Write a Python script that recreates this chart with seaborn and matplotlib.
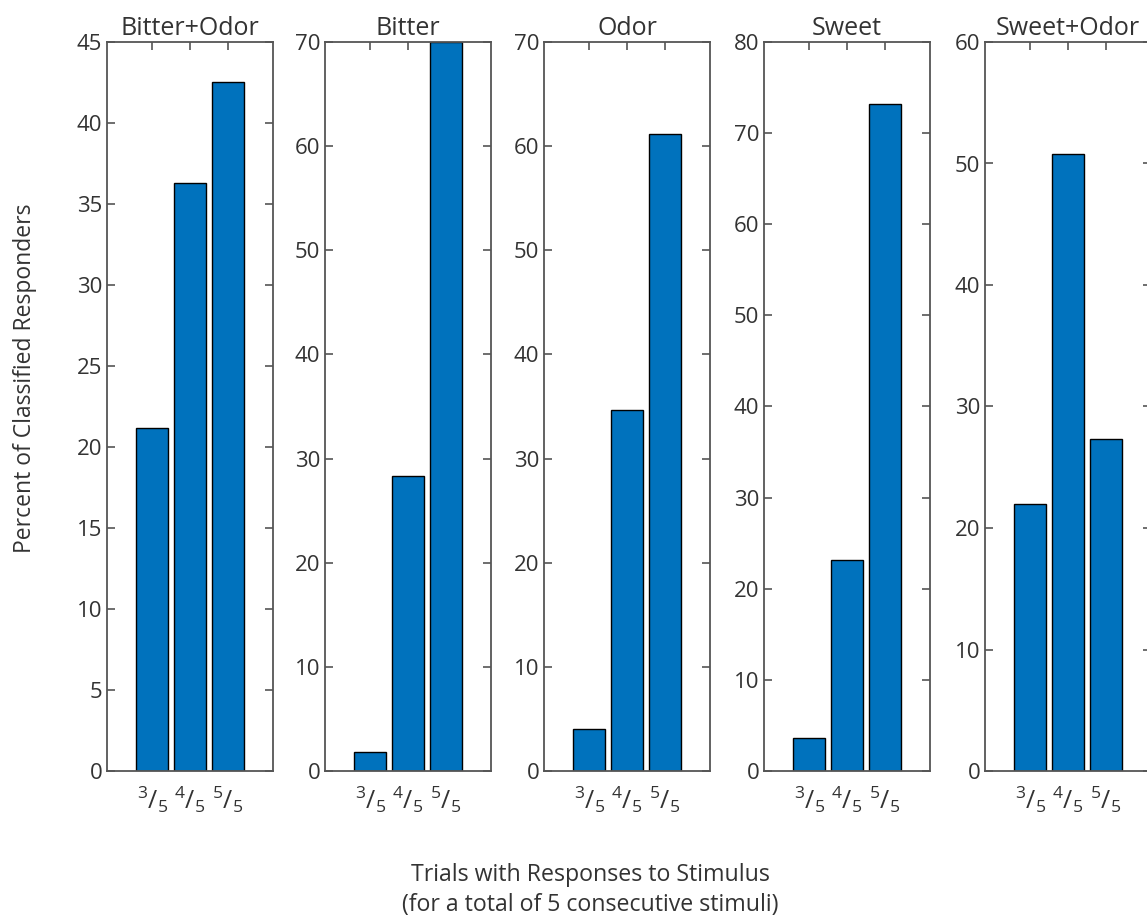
import numpy as np
import pandas as pd
import matplotlib
matplotlib.use("Agg")
import matplotlib.pyplot as plt
import seaborn as sns

# data
panels = ["Bitter+Odor", "Bitter", "Odor", "Sweet", "Sweet+Odor"]
trials = ["3/5", "4/5", "5/5"]
bitter_odor = [21.2, 36.3, 42.5]
bitter = [1.8, 28.3, 70.0]
odor = [4.0, 34.7, 61.2]
sweet = [3.6, 23.2, 73.2]
sweet_odor = [22.0, 50.8, 27.3]
y_max = [45, 70, 70, 80, 60]
y_step = [5, 10, 10, 10, 10]
tick_labels = [r"$^{3}/_{5}$", r"$^{4}/_{5}$", r"$^{5}/_{5}$"]

values = [bitter_odor, bitter, odor, sweet, sweet_odor]
df = pd.DataFrame({
    "panel": np.repeat(panels, len(trials)),
    "trials": trials * len(panels),
    "percent": np.concatenate(values),
})

sns.set_style("white")
plt.rcParams["font.family"] = ["Open Sans", "DejaVu Sans"]
plt.rcParams["mathtext.fontset"] = "custom"
plt.rcParams["mathtext.rm"] = "Open Sans"
plt.rcParams["mathtext.it"] = "Open Sans"

text_col = "#333333"
spine_col = "#555555"
bar_col = "#0072BD"

fig = plt.figure(figsize=(11.47, 9.22), dpi=100)
W, H = 1147, 922
lefts = [107, 325, 544, 764, 985]
top, bottom, width = 42, 771, 166

for i, name in enumerate(panels):
    ax = fig.add_axes([lefts[i] / W, (H - bottom) / H, width / W, (bottom - top) / H])
    sub = df[df["panel"] == name]
    sns.barplot(data=sub, x="trials", y="percent", order=trials, color=bar_col,
                saturation=1, width=0.84, edgecolor="black", linewidth=1.0, ax=ax)
    ax.set_xlim(-1.2, 3.2)
    ax.set_ylim(0, y_max[i])
    ax.set_yticks(np.arange(0, y_max[i] + 0.1, y_step[i]))
    ax.set_xticks(range(3))
    ax.set_xticklabels(tick_labels, fontsize=18)
    ax.tick_params(axis="y", labelsize=16)
    ax.tick_params(direction="in", length=6, width=1.2, color=spine_col,
                   labelcolor=text_col, top=True, right=True, left=True, bottom=True)
    ax.tick_params(axis="x", pad=10)
    for s in ax.spines.values():
        s.set_visible(True)
        s.set_color(spine_col)
        s.set_linewidth(1.3)
    ax.set_xlabel("")
    ax.set_ylabel("")
    ax.set_title(name, fontsize=18, color=text_col, pad=5)

fig.text(25 / W, 1 - 378 / H, "Percent of Classified Responders", rotation=90,
         ha="center", va="center", fontsize=16.5, color=text_col)
fig.text(590 / W, 1 - 890 / H,
         "Trials with Responses to Stimulus\n(for a total of 5 consecutive stimuli)",
         ha="center", va="center", fontsize=16.7, color=text_col, linespacing=1.3)

fig.savefig("out.png", dpi=100)
